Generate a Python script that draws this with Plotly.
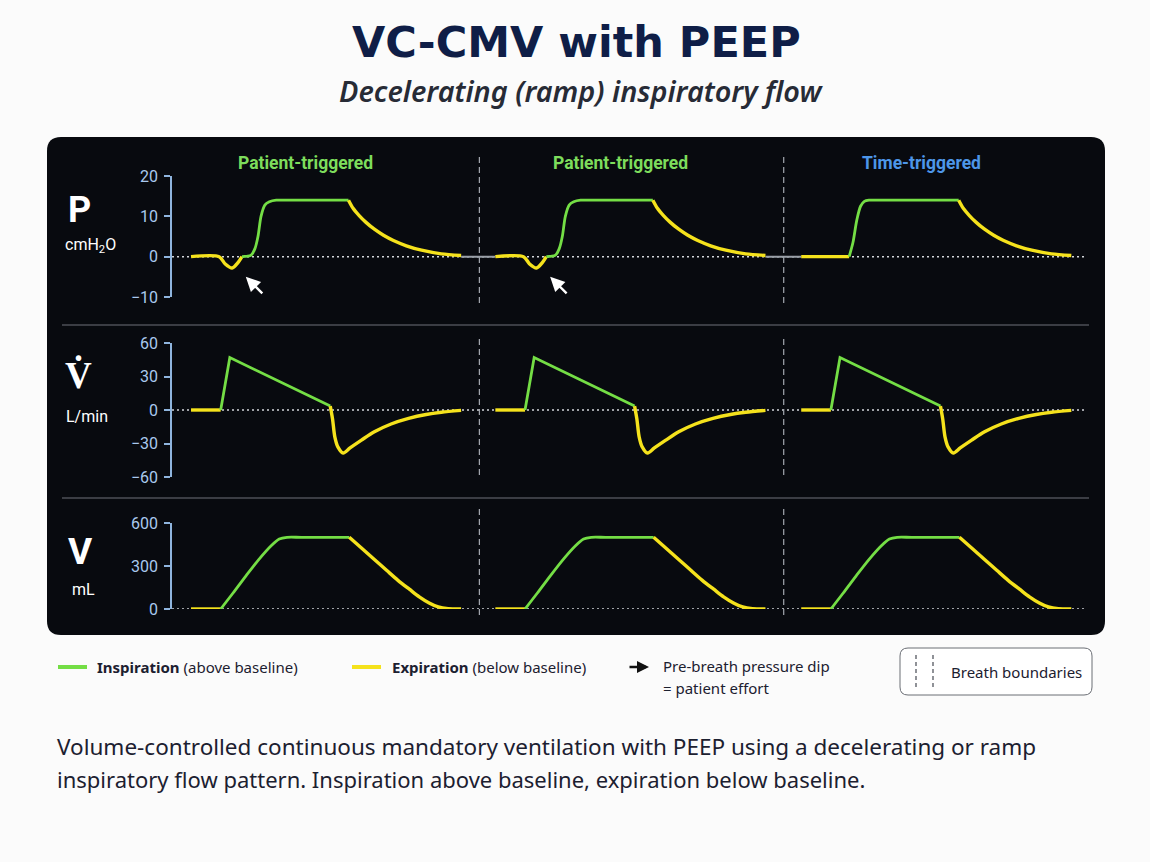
import plotly.graph_objects as go

W, H = 1150, 862

# ---------------- data ----------------
BREATH_START = [0.0, 4.0, 8.02]          # s
BREATH_TRIGGER = ["Patient-triggered", "Patient-triggered", "Time-triggered"]
BOUNDARY_T = [3.79, 7.79]                # dashed breath boundaries (s)
EFFORT_ARROW_T = [0.72, 4.72]            # arrows pointing at the patient effort dip
EFFORT_ARROW_P = -5.0

# Pressure (cmH2O) – patient-triggered breath, time relative to breath start (s)
P_PT_PRE_T = [0.00, 0.37, 0.45, 0.54, 0.62, 0.67]
P_PT_PRE_V = [0.0, 0.0, -1.8, -2.8, -1.4, 0.0]
P_PT_INS_T = [0.67, 0.79, 0.84, 0.88, 0.92, 0.97, 1.03, 1.12, 1.30, 2.07]
P_PT_INS_V = [0.0, 0.4, 2.0, 5.0, 10.0, 12.8, 13.6, 14.0, 14.0, 14.0]
# Pressure – time-triggered breath
P_TT_PRE_T = [0.00, 0.63]
P_TT_PRE_V = [0.0, 0.0]
P_TT_INS_T = [0.63, 0.68, 0.73, 0.78, 0.83, 0.89, 1.05, 2.07]
P_TT_INS_V = [0.0, 3.5, 9.0, 12.5, 13.7, 14.0, 14.0, 14.0]
# Pressure – expiration
P_EXP_T = [2.07, 2.13, 2.21, 2.30, 2.41, 2.53, 2.66, 2.83, 3.03, 3.29, 3.55]
P_EXP_V = [14.0, 12.0, 10.2, 8.5, 6.8, 5.3, 4.0, 2.7, 1.6, 0.7, 0.3]

# Flow (L/min)
F_PRE_T = [0.00, 0.39]
F_PRE_V = [0.0, 0.0]
F_INS_T = [0.39, 0.51, 1.83]
F_INS_V = [0.0, 47.0, 3.5]
F_EXP_T = [1.83, 1.86, 1.89, 1.93, 2.00, 2.09, 2.24, 2.41, 2.63, 2.86, 3.09, 3.29, 3.55]
F_EXP_V = [3.5, -8.0, -24.0, -33.0, -38.5, -34.0, -27.0, -19.5, -12.5, -7.5, -4.0, -2.0, -0.3]

# Volume (mL)
V_PRE_T = [0.00, 0.39]
V_PRE_V = [0.0, 0.0]
V_INS_T = [0.39, 0.55, 0.72, 0.89, 1.05, 1.16, 1.26, 1.45, 2.08]
V_INS_V = [0.0, 110.0, 230.0, 345.0, 440.0, 488.0, 500.0, 500.0, 500.0]
V_EXP_T = [2.08, 2.24, 2.41, 2.57, 2.72, 2.87, 3.00, 3.13, 3.25, 3.38, 3.55]
V_EXP_V = [500.0, 425.0, 345.0, 270.0, 200.0, 138.0, 85.0, 42.0, 14.0, 2.0, 0.0]

P_TICKS = [-10, 0, 10, 20]
F_TICKS = [-60, -30, 0, 30, 60]
V_TICKS = [0, 300, 600]

# ---------------- style ----------------
GREEN = "#74de45"
YELLOW = "#f5e21c"
AXC = "#8fb5de"
TICKC = "#a9c9ee"
PANEL = "#080a0f"
TXT = "#1c2030"


def px(x):
    return x / W


def py(y):
    return 1 - y / H


def rounded_rect(x0, y0, x1, y1, r):
    """SVG path (paper coords) for a rounded rectangle given in pixels."""
    pts = [
        f"M {px(x0 + r)},{py(y0)}",
        f"L {px(x1 - r)},{py(y0)}",
        f"Q {px(x1)},{py(y0)} {px(x1)},{py(y0 + r)}",
        f"L {px(x1)},{py(y1 - r)}",
        f"Q {px(x1)},{py(y1)} {px(x1 - r)},{py(y1)}",
        f"L {px(x0 + r)},{py(y1)}",
        f"Q {px(x0)},{py(y1)} {px(x0)},{py(y1 - r)}",
        f"L {px(x0)},{py(y0 + r)}",
        f"Q {px(x0)},{py(y0)} {px(x0 + r)},{py(y0)}",
        "Z",
    ]
    return " ".join(pts)


fig = go.Figure()


def seg(t, v, start, color, width, xa, ya, shape="spline"):
    fig.add_trace(go.Scatter(
        x=[start + ti for ti in t], y=v, mode="lines",
        line=dict(color=color, width=width, shape=shape, smoothing=0.8),
        xaxis=xa, yaxis=ya, hoverinfo="skip", showlegend=False))


# gap segments on the pressure baseline between breaths
for i in range(len(BREATH_START) - 1):
    fig.add_trace(go.Scatter(
        x=[BREATH_START[i] + P_EXP_T[-1], BREATH_START[i + 1]], y=[0, 0],
        mode="lines", line=dict(color="#9aa0a8", width=2),
        xaxis="x", yaxis="y", hoverinfo="skip", showlegend=False))

for s, trig in zip(BREATH_START, BREATH_TRIGGER):
    if trig.startswith("Patient"):
        seg(P_PT_PRE_T, P_PT_PRE_V, s, YELLOW, 3.4, "x", "y")
        seg(P_PT_INS_T, P_PT_INS_V, s, GREEN, 2.8, "x", "y")
    else:
        seg(P_TT_PRE_T, P_TT_PRE_V, s, YELLOW, 3.4, "x", "y")
        seg(P_TT_INS_T, P_TT_INS_V, s, GREEN, 2.8, "x", "y")
    seg(P_EXP_T, P_EXP_V, s, YELLOW, 3.4, "x", "y")

    seg(F_PRE_T, F_PRE_V, s, YELLOW, 3.4, "x2", "y2", "linear")
    seg(F_INS_T, F_INS_V, s, GREEN, 2.8, "x2", "y2", "linear")
    seg(F_EXP_T, F_EXP_V, s, YELLOW, 3.4, "x2", "y2")

    seg(V_PRE_T, V_PRE_V, s, YELLOW, 3.4, "x3", "y3", "linear")
    seg(V_INS_T, V_INS_V, s, GREEN, 2.8, "x3", "y3")
    seg(V_EXP_T, V_EXP_V, s, YELLOW, 3.4, "x3", "y3")

# ---------------- axes ----------------
xdom = [px(172), px(1085)]
xcommon = dict(range=[-0.25, 11.75], domain=xdom, visible=False, fixedrange=True)


def yax(dom, rng, ticks, anchor):
    return dict(domain=dom, range=rng, tickvals=ticks, showline=True, linecolor=AXC,
                linewidth=1.5, ticks="outside", ticklen=6, tickwidth=1.5, tickcolor=AXC,
                tickfont=dict(family="Roboto", size=16, color=TICKC), showgrid=False,
                zeroline=False, anchor=anchor, fixedrange=True, ticklabelstandoff=3)


fig.update_layout(
    xaxis=dict(**xcommon, anchor="y"),
    xaxis2=dict(**xcommon, anchor="y2"),
    xaxis3=dict(**xcommon, anchor="y3"),
    yaxis=yax([py(297), py(176)], [-10, 20], P_TICKS, "x"),
    yaxis2=yax([py(477), py(343)], [-60, 60], F_TICKS, "x2"),
    yaxis3=yax([py(609), py(523)], [0, 600], V_TICKS, "x3"),
)

shapes = []
# dark panel
shapes.append(dict(type="path", xref="paper", yref="paper", path=rounded_rect(47, 137, 1105, 635, 14),
                   fillcolor=PANEL, line=dict(width=0), layer="below"))
# separators between rows
for yy in (325, 498):
    shapes.append(dict(type="line", xref="paper", yref="paper", x0=px(62), x1=px(1089),
                       y0=py(yy), y1=py(yy), line=dict(color="#4c4f57", width=1.5), layer="below"))
# dotted baselines
for xa, ya in (("x", "y"), ("x2", "y2"), ("x3", "y3")):
    shapes.append(dict(type="line", xref=f"{xa} domain", yref=ya, x0=0, x1=1, y0=0, y1=0,
                       line=dict(color="#d2d5da", width=1.5, dash="2px,3px"), layer="below"))
# dashed breath boundaries
for ya, lo, hi in (("y", -0.05, 1.17), ("y2", 0.015, 1.06), ("y3", -0.07, 1.19)):
    for bt in BOUNDARY_T:
        shapes.append(dict(type="line", xref="x", yref=f"{ya} domain", x0=bt, x1=bt, y0=lo, y1=hi,
                           line=dict(color="#a4a8b0", width=1.2, dash="6px,4px"), layer="below"))
# legend line swatches
shapes.append(dict(type="line", xref="paper", yref="paper", x0=px(58), x1=px(87), y0=py(667), y1=py(667),
                   line=dict(color=GREEN, width=4)))
shapes.append(dict(type="line", xref="paper", yref="paper", x0=px(352), x1=px(381), y0=py(667), y1=py(667),
                   line=dict(color=YELLOW, width=4)))
# breath boundary legend box
shapes.append(dict(type="path", xref="paper", yref="paper", path=rounded_rect(900, 648, 1092, 695, 8),
                   fillcolor="#ffffff", line=dict(color="#6b6e75", width=1)))
for xx in (916, 933):
    shapes.append(dict(type="line", xref="paper", yref="paper", x0=px(xx), x1=px(xx), y0=py(655), y1=py(689),
                       line=dict(color="#555860", width=1.3, dash="4px,3px")))

annotations = []


def note(text, x, y, size, color, xanchor="center", family="Noto Sans", **kw):
    annotations.append(dict(text=text, x=px(x), y=py(y), xref="paper", yref="paper", showarrow=False,
                            xanchor=xanchor, yanchor="middle",
                            font=dict(family=family, size=size, color=color, **kw)))


# titles
note("<b>VC-CMV with PEEP</b>", 576, 42, 43, "#0f1e47", family="DejaVu Sans")
note("Decelerating (ramp) inspiratory flow", 581, 91, 28.8, "#272b36", style="italic", weight=600)

# row labels
note("<b>P</b>", 79, 210, 36, "#ffffff", family="Roboto")
note("cmH<sub>2</sub>O", 90, 245, 16, "#ffffff", family="Roboto")
note("<b>V̇</b>", 78, 376, 37, "#ffffff", family="Roboto")
note("L/min", 87, 416, 16, "#ffffff", family="Roboto")
note("<b>V</b>", 80, 551, 37, "#ffffff", family="Roboto")
note("mL", 83, 589, 16, "#ffffff", family="Roboto")

# breath headers
HEADER_X = [305, 620, 921]
for hx, trig in zip(HEADER_X, BREATH_TRIGGER):
    col = "#7ddd5c" if trig.startswith("Patient") else "#4d96e8"
    note(f"<b>{trig}</b>", hx, 163, 17.5, col, family="Roboto")

# effort arrows
for at in EFFORT_ARROW_T:
    annotations.append(dict(x=at, y=EFFORT_ARROW_P, xref="x", yref="y", text="", showarrow=True,
                            arrowhead=2, arrowsize=1.2, arrowwidth=2.4, arrowcolor="#ffffff",
                            ax=18, ay=18))

# legend texts
note("<b>Inspiration</b> (above baseline)", 95, 667, 15, TXT, xanchor="left")
note("<b>Expiration</b> (below baseline)", 390, 667, 15, TXT, xanchor="left")
annotations.append(dict(x=px(649), y=py(667), xref="paper", yref="paper", text="", showarrow=True,
                        axref="pixel", ayref="pixel", ax=-21, ay=0, arrowhead=2, arrowsize=1,
                        arrowwidth=2.4, arrowcolor="#111111"))
note("Pre-breath pressure dip", 661, 666, 15, TXT, xanchor="left")
note("= patient effort", 661, 688, 15, TXT, xanchor="left")
note("Breath boundaries", 949, 672, 15, TXT, xanchor="left")

# caption
note("Volume-controlled continuous mandatory ventilation with PEEP using a decelerating or ramp",
     55, 746, 22.5, TXT, xanchor="left")
note("inspiratory flow pattern. Inspiration above baseline, expiration below baseline.",
     55, 779, 22, TXT, xanchor="left")

fig.update_layout(
    width=W, height=H,
    margin=dict(l=0, r=0, t=0, b=0, autoexpand=False),
    paper_bgcolor="#fbfbfb", plot_bgcolor="rgba(0,0,0,0)",
    shapes=shapes, annotations=annotations, showlegend=False,
    font=dict(family="Noto Sans"),
)

fig.write_html("out.html", config={"displayModeBar": False})
